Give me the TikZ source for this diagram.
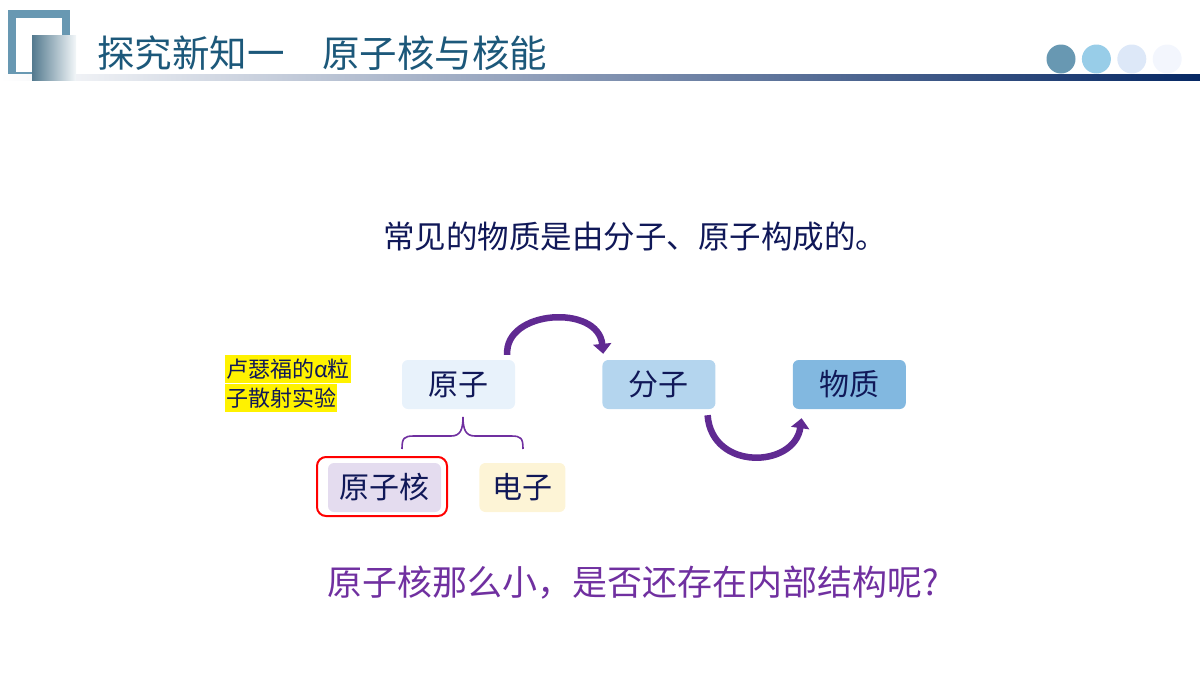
\documentclass[tikz,border=0pt]{standalone}
\usepackage{fontspec}
\setmainfont{Noto Sans CJK SC}
\usepackage{tikz}
\usetikzlibrary{arrows.meta,positioning,fit}
\usepackage{xcolor}
\definecolor{frameblue}{RGB}{104,152,178}
\definecolor{titleblue}{RGB}{28,88,122}
\definecolor{linemid}{RGB}{40,112,145}
\definecolor{linenavy}{RGB}{6,40,100}
\definecolor{dotone}{RGB}{104,152,178}
\definecolor{dottwo}{RGB}{152,205,232}
\definecolor{dotthree}{RGB}{221,232,248}
\definecolor{dotfour}{RGB}{243,246,253}
\definecolor{textnavy}{RGB}{16,24,88}
\definecolor{askpurple}{RGB}{112,48,160}
\definecolor{arrowpurple}{RGB}{96,42,146}
\definecolor{atomfill}{RGB}{232,242,251}
\definecolor{molfill}{RGB}{180,213,238}
\definecolor{matfill}{RGB}{130,184,224}
\definecolor{nucfill}{RGB}{228,220,239}
\definecolor{elefill}{RGB}{253,244,214}

\begin{document}
\begin{tikzpicture}[
  x=1pt, y=-1pt,
  part/.style={rectangle, rounded corners=6pt, minimum width=113pt,
               minimum height=49pt, text=textnavy, inner sep=0pt,
               font=\fontsize{30}{36}\selectfont},
  hl/.style={fill=yellow, text=textnavy, inner xsep=1pt, inner ysep=0pt,
             minimum height=28.5pt, font=\fontsize{22}{26}\selectfont},
  flow/.style={-{Triangle[length=10pt,width=18pt]}, draw=arrowpurple,
               line width=6.5pt},
  dot/.style={circle, minimum size=29pt, inner sep=0pt},
  node distance=87pt,
]
\useasboundingbox (0,0) rectangle (1200,675);

% Header — frame, bar, title, dots
\draw[frameblue, line width=8pt] (12,14) rectangle (66,76);
\shade[left color=white, middle color=linemid, right color=linenavy]
  (0,74) rectangle (1200,80);
\shade[left color=frameblue!80!black, right color=white!92!frameblue]
  (32,35) rectangle (76,80);
\node[anchor=west, inner sep=0pt, text=titleblue,
      font=\fontsize{37.5}{40}\selectfont] (title) at (97,53)
  {探究新知一　原子核与核能};
\node[dot, fill=dotone]   (d1) at (1061,59) {};
\node[dot, fill=dottwo,   right=6pt of d1] (d2) {};
\node[dot, fill=dotthree, right=6pt of d2] (d3) {};
\node[dot, fill=dotfour,  right=6pt of d3] (d4) {};

% Lead sentence
\node[text=textnavy, font=\fontsize{31.5}{36}\selectfont] (lead) at (635,237)
  {常见的物质是由分子、原子构成的。};

% Row 1 — atom, molecule, matter
\node[part, fill=atomfill] (atom) at (458.5,384.5) {原子};
\node[part, fill=molfill, right=of atom] (mol) {分子};
\node[part, fill=matfill, right=77pt of mol] (mat) {物质};

% Rutherford note
\node[hl, anchor=west] (note1) at (225,369) {卢瑟福的α粒};
\node[hl, anchor=north west] (note2) at (note1.south west) {子散射实验};

% Row 2 — nucleus, electron
\node[part, fill=nucfill] (nuc) at (384.5,487.5) {原子核};
\node[part, fill=elefill, minimum width=86pt, right=38pt of nuc] (ele) {电子};
\node[draw=red, line width=2pt, rounded corners=9pt, inner sep=0pt,
      fit={(317,457) (447,516)}] (nucframe) {};

% Brace under the atom
\coordinate (braceL) at (402,449);
\coordinate (braceT) at (463,417);
\coordinate (braceR) at (523,449);
\draw[askpurple, line width=1.6pt]
  (braceL) .. controls (402,438) and (404,436) .. (414,436) -- (451,436)
  .. controls (460,436) and (463,430) .. (braceT)
  .. controls (463,430) and (466,436) .. (475,436) -- (511,436)
  .. controls (521,436) and (523,438) .. (braceR);

% Arrows
\coordinate (a1s) at ([xshift=-8pt,yshift=5pt]atom.north east);
\coordinate (a1e) at ([xshift=1pt,yshift=6pt]mol.north west);
\coordinate (a2s) at ([xshift=-8pt,yshift=-6pt]mol.south east);
\coordinate (a2e) at ([xshift=9pt,yshift=-9pt]mat.south west);
\draw[flow] (a1s) .. controls +(-3,-45) and +(-5,-50) .. (a1e);
\draw[flow] (a2s) .. controls +(4,56) and +(-7,50) .. (a2e);

% Question
\node[text=askpurple, font=\fontsize{35}{40}\selectfont] (ask) at (633,583)
  {原子核那么小，是否还存在内部结构呢?};
\end{tikzpicture}
\end{document}
